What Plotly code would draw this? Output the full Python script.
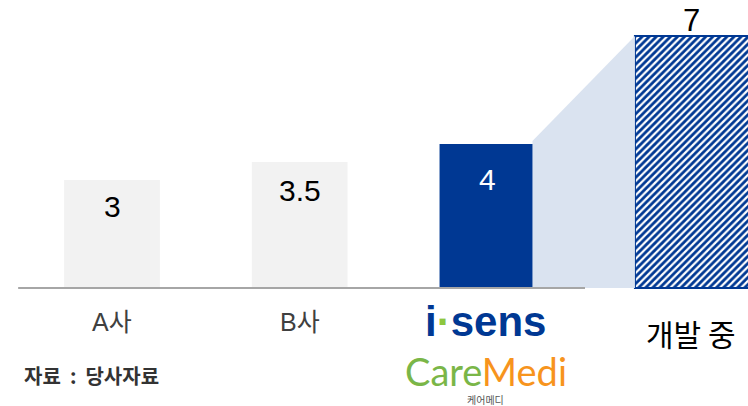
import plotly.graph_objects as go

# ---- data ----
categories = ["A사", "B사", "i-sens", "개발 중"]
values = [3, 3.5, 4, 7]
value_labels = ["3", "3.5", "4", "7"]
source_note = "자료  :  당사자료"

W, H = 748, 406
OFF = 0  # body margin removed by post_script
BLUE = "#003893"
GRAY = "#f2f2f2"
LIGHT = "#dae3f0"

xs = list(range(len(categories)))
bar_w = [0.51, 0.51, 0.51, 0.64]
bar_off = [-0.255, -0.255, -0.255, -0.214]

fig = go.Figure()

x3r = xs[2] + bar_off[2] + bar_w[2]
x4l = xs[3] + bar_off[3]
fig.add_trace(go.Scatter(
    x=[x3r - 0.015, x3r - 0.015, x4l, x4l],
    y=[0, values[2] + 0.08, values[3], 0],
    fill="toself", fillcolor=LIGHT, mode="lines", line=dict(width=0),
    hoverinfo="skip", showlegend=False))

fig.add_trace(go.Bar(
    x=xs[:3], y=values[:3], width=bar_w[:3], offset=bar_off[:3],
    marker=dict(color=[GRAY, GRAY, BLUE], line=dict(width=0)),
    showlegend=False, hoverinfo="skip"))

fig.add_trace(go.Bar(
    x=xs[3:], y=values[3:], width=bar_w[3:], offset=bar_off[3:],
    marker=dict(color="white", line=dict(color=BLUE, width=2),
                pattern=dict(shape="/", fgcolor=BLUE, bgcolor="white", fgopacity=1,
                             size=5, solidity=0.55, fillmode="overlay")),
    showlegend=False, hoverinfo="skip"))

def py(p):
    return 1 - (p - OFF) / H

def pxp(p):
    return (p - OFF) / W

ann = []
shifts = [-26, -28, -35]
colors = ["black", "black", "white"]
for i in range(3):
    ann.append(dict(x=xs[i], y=values[i], xref="x", yref="y", yshift=shifts[i],
                    text=value_labels[i], showarrow=False, yanchor="middle",
                    font=dict(family="Liberation Sans, Arial", size=30, color=colors[i])))
ann.append(dict(x=xs[3] + 0.085, y=py(20), xref="x", yref="paper",
                text=value_labels[3], showarrow=False, yanchor="middle",
                font=dict(family="Liberation Sans, Arial", size=31, color="black")))

for i in range(2):
    ann.append(dict(x=xs[i], y=py(322), xref="x", yref="paper", text=categories[i],
                    showarrow=False, yanchor="middle",
                    font=dict(family="Liberation Sans, Noto Sans CJK KR", size=25, color="#404040")))
ann.append(dict(x=xs[3] + 0.085, y=py(333), xref="x", yref="paper", text=categories[3],
                showarrow=False, yanchor="middle",
                font=dict(family="Noto Sans CJK KR", size=30, color="black")))

ann.append(dict(x=xs[2] - 0.01, y=py(321), xref="x", yref="paper",
                text="i<span style='color:#8dc63f'>·</span>sens", showarrow=False, yanchor="middle",
                font=dict(family="Liberation Sans", size=42, color=BLUE, weight="bold")))
ann.append(dict(x=xs[2] - 0.01, y=py(371), xref="x", yref="paper",
                text="<span style='color:#7ab648'>Care</span><span style='color:#f7941d'>Medi</span>",
                showarrow=False, yanchor="middle",
                font=dict(family="Lato, Noto Sans", size=38)))
ann.append(dict(x=xs[2] - 0.01, y=py(399), xref="x", yref="paper", text="케어메디",
                showarrow=False, yanchor="middle",
                font=dict(family="Noto Sans CJK KR", size=10, color="#555555")))

ann.append(dict(x=pxp(22), y=py(375), xref="paper", yref="paper", text=source_note,
                showarrow=False, xanchor="left", yanchor="middle",
                font=dict(family="Noto Sans CJK KR", size=20, color="#333333", weight="bold")))

px_per_unit = 187.7
cx0 = 112 - OFF
x0 = -cx0 / px_per_unit
x1 = (W - cx0) / px_per_unit
base = 288 - OFF

fig.update_layout(
    width=W, height=H, margin=dict(l=0, r=0, t=0, b=0),
    paper_bgcolor="white", plot_bgcolor="white",
    xaxis=dict(range=[x0, x1], visible=False, fixedrange=True),
    yaxis=dict(range=[-(H - base) / 36, base / 36], visible=False, fixedrange=True),
    barmode="overlay", annotations=ann,
    shapes=[dict(type="line", xref="x", yref="y", x0=-0.5, x1=2.52, y0=0, y1=0,
                 line=dict(color="#a6a6a6", width=2))],
)

fig.write_html("out.html", config={"displayModeBar": False},
               post_script="document.body.style.margin='0';document.body.style.overflow='hidden';")
